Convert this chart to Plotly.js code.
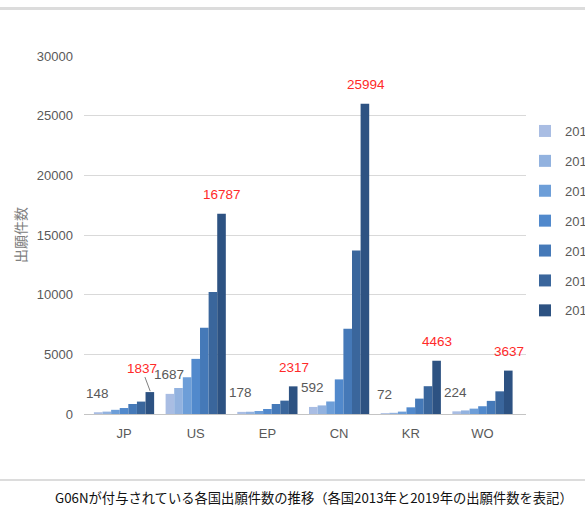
<!DOCTYPE html>
<html><head><meta charset="utf-8">
<script src="https://cdn.plot.ly/plotly-3.0.1.min.js"></script>
<style>html,body{margin:0;padding:0;background:#fff;}#chart{width:585px;height:506px;}</style>
</head><body><div id="chart"></div>
<script>
const categories = ["JP","US","EP","CN","KR","WO"];
const years = ["2013","2014","2015","2016","2017","2018","2019"];
const v2013 = [148, 1687, 178, 592, 72, 224];
const v2014 = [200, 2180, 190, 720, 100, 300];
const v2015 = [350, 3080, 250, 1050, 200, 450];
const v2016 = [500, 4620, 420, 2900, 560, 650];
const v2017 = [840, 7230, 840, 7150, 1290, 1100];
const v2018 = [1040, 10220, 1120, 13700, 2330, 1900];
const v2019 = [1837, 16787, 2317, 25994, 4463, 3637];
const yTicks = [0,5000,10000,15000,20000,25000,30000];
const yTitle = "出願件数";
const caption = "G06Nが付与されている各国出願件数の推移（各国2013年と2019年の出願件数を表記）";

const series = [v2013,v2014,v2015,v2016,v2017,v2018,v2019];
const colors = ["#a9bde3","#92b2df","#6d9ed8","#5189cc","#4579b8","#3a669c","#2d5282"];

const W=585,H=506,L=84,R=59,T=56,B=92;
const pw=W-L-R, ph=H-T-B;
const bargap=0.16;
const catW=pw/categories.length;
const barW=catW*(1-bargap)/years.length;
const off2013=-3*barW, off2019=3*barW;
const numFont="'Liberation Sans', Arial, sans-serif";
const jpFont="'Noto Sans CJK JP', 'Noto Sans', sans-serif";

const traces = series.map((vals,i)=>({
  type:'bar', name:years[i], x:categories, y:vals,
  marker:{color:colors[i]}, legendgroup:years[i],
  hoverinfo:'x+y+name'
}));

const annotations=[];
categories.forEach((c,i)=>{
  annotations.push({x:c,y:v2013[i],xref:'x',yref:'y',text:String(v2013[i]),showarrow:false,
    xshift:off2013,yshift:19,yanchor:'middle',font:{family:numFont,size:13.5,color:'#595959'}});
  if(c==="JP"){
    annotations.push({x:c,y:v2019[i],xref:'x',yref:'y',text:String(v2019[i]),showarrow:true,
      arrowhead:0,arrowwidth:1,arrowcolor:'#7f7f7f',ax:-9,ay:-24,standoff:1,
      xshift:off2019,font:{family:numFont,size:13.5,color:'#ff2a2a'}});
  } else {
    annotations.push({x:c,y:v2019[i],xref:'x',yref:'y',text:String(v2019[i]),showarrow:false,
      xshift:off2019,yshift:19,yanchor:'middle',font:{family:numFont,size:13.5,color:'#ff2a2a'}});
  }
});
function py(p){return (T+ph-p)/ph;}
function px(p){return (p-L)/pw;}
annotations.push({xref:'paper',yref:'paper',x:px(314),y:py(497),text:caption,showarrow:false,
  xanchor:'center',yanchor:'middle',font:{family:jpFont,size:13.3,color:'#111111'}});

const shapes=[
  {type:'line',xref:'paper',yref:'paper',x0:px(0),x1:px(W),y0:py(8.5),y1:py(8.5),line:{color:'#dcdcdc',width:3}},
  {type:'line',xref:'paper',yref:'paper',x0:px(0),x1:px(W),y0:py(480),y1:py(480),line:{color:'#dcdcdc',width:2}}
];

const layout={
  width:W,height:H,margin:{l:L,r:R,t:T,b:B,autoexpand:false},
  paper_bgcolor:'#fff',plot_bgcolor:'#fff',
  barmode:'group',bargap:bargap,bargroupgap:0,
  font:{family:numFont,size:13,color:'#595959'},
  xaxis:{type:'category',showgrid:false,showline:false,zeroline:false,ticks:'',
    ticklabelstandoff:10,tickfont:{family:numFont,size:13,color:'#595959'}},
  yaxis:{range:[0,30000],tickvals:yTicks,ticktext:yTicks.map(String),showgrid:true,gridcolor:'#d9d9d9',gridwidth:1,
    zeroline:true,zerolinecolor:'#c4c4c4',zerolinewidth:1,showline:false,ticks:'',ticklabelstandoff:10,
    tickfont:{family:numFont,size:13,color:'#595959'},
    title:{text:yTitle,standoff:6,font:{family:jpFont,size:14,color:'#808080'}}},
  showlegend:true,
  legend:{x:px(525),xanchor:'left',y:py(116),yanchor:'top',traceorder:'grouped',tracegroupgap:10,
    font:{family:numFont,size:13,color:'#595959'},bgcolor:'rgba(0,0,0,0)'},
  annotations:annotations,shapes:shapes
};
Plotly.newPlot('chart',traces,layout,{displayModeBar:false,staticPlot:true});
</script></body></html>
